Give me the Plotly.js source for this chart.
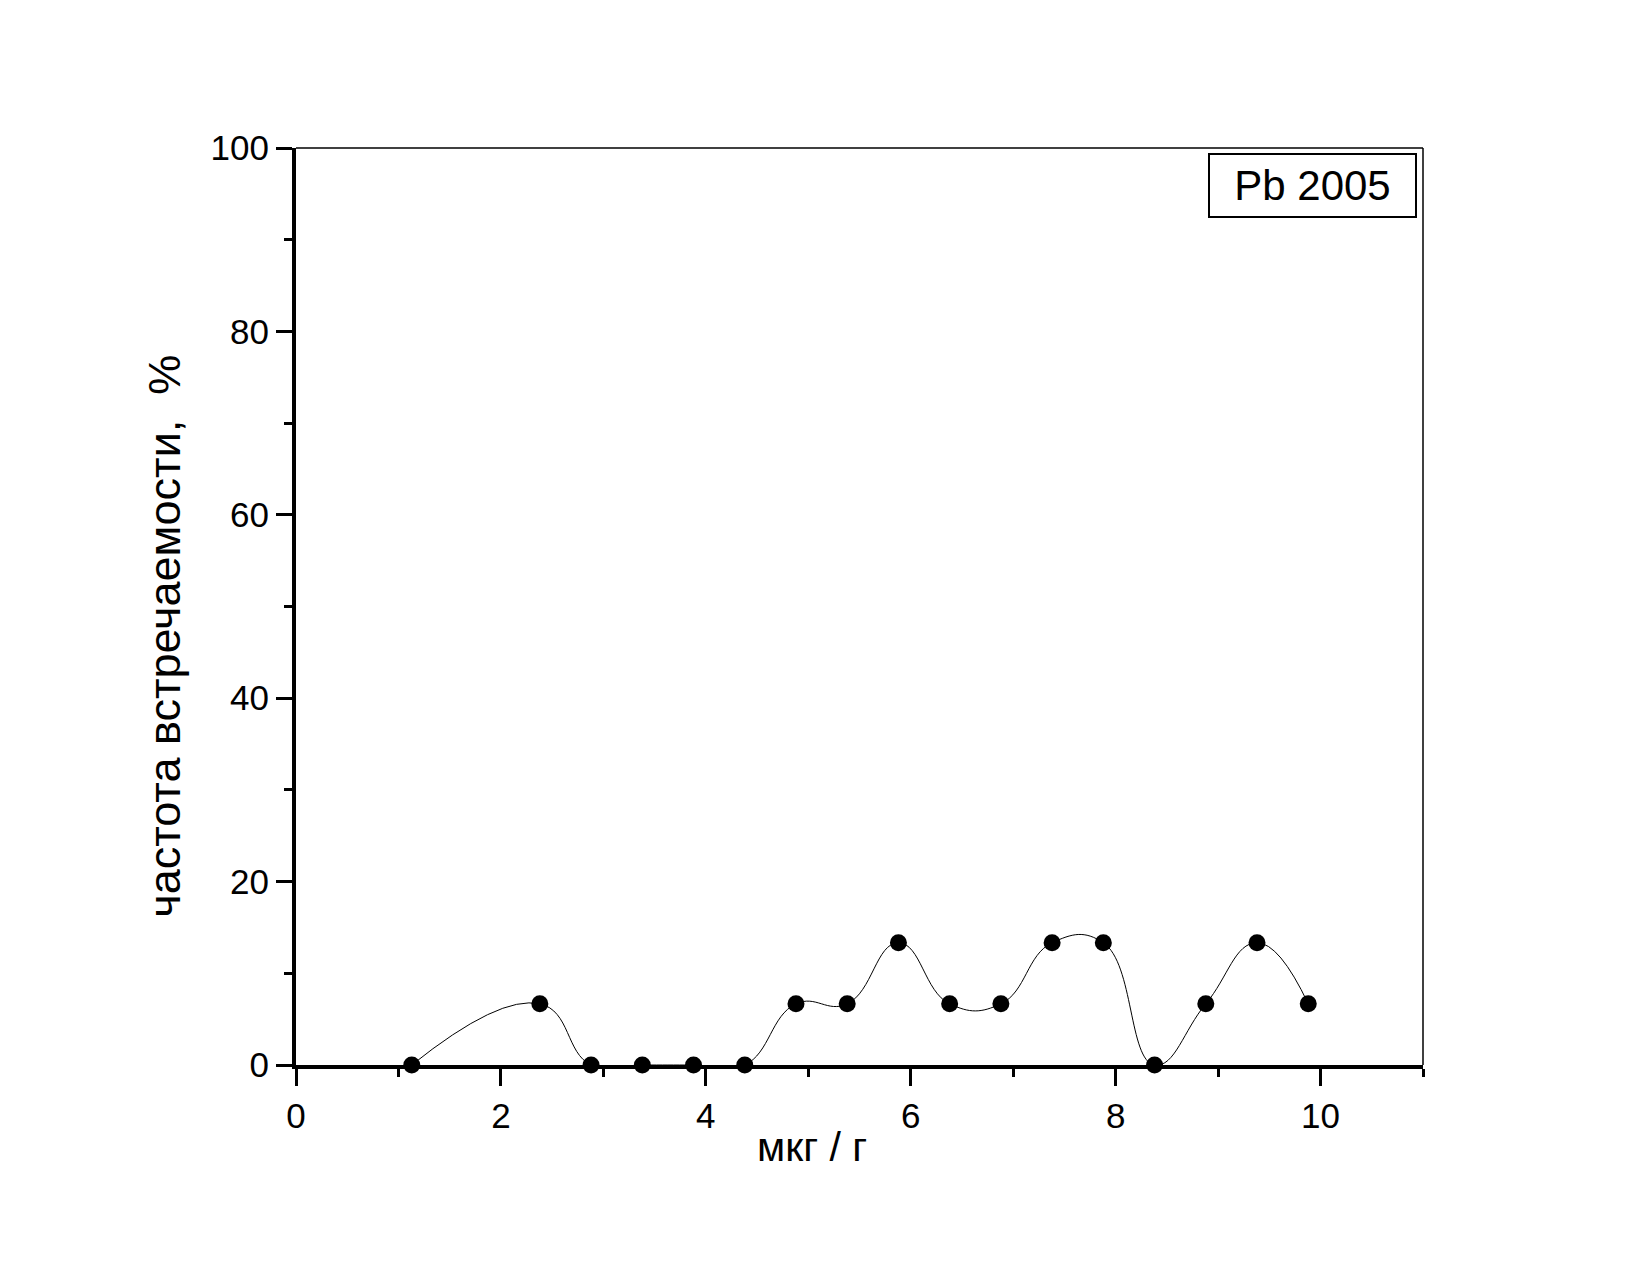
<!DOCTYPE html>
<html>
<head>
<meta charset="utf-8">
<script src="https://cdn.plot.ly/plotly-3.0.1.min.js"></script>
<style>html,body{margin:0;padding:0;background:#fff;}#chart{width:1650px;height:1275px;}</style>
</head>
<body>
<div id="chart"></div>
<script>
var concentration = [1.13, 2.38, 2.88, 3.38, 3.88, 4.38, 4.88, 5.38, 5.88, 6.38, 6.88, 7.38, 7.88, 8.38, 8.88, 9.38, 9.88];
var frequency = [0, 6.67, 0, 0, 0, 0, 6.67, 6.67, 13.33, 6.67, 6.67, 13.33, 13.33, 0, 6.67, 13.33, 6.67];
var seriesLabel = 'Pb 2005';
var xTitle = 'мкг / г';
var yTitle = 'частота встречаемости,  %';

var FONT = 'Liberation Sans, Arial, sans-serif';

var trace = {
  x: concentration,
  y: frequency,
  mode: 'lines+markers',
  type: 'scatter',
  line: {shape: 'spline', smoothing: 1.3, color: '#000', width: 1},
  marker: {symbol: 'circle', size: 17, color: '#000'},
  cliponaxis: false,
  showlegend: false
};

var layout = {
  width: 1650,
  height: 1275,
  paper_bgcolor: '#fff',
  plot_bgcolor: '#fff',
  margin: {l: 296, r: 227, t: 148, b: 210},
  font: {family: FONT, color: '#000'},
  xaxis: {
    range: [0, 11],
    dtick: 2,
    tick0: 0,
    ticks: 'outside',
    ticklen: 17,
    tickwidth: 3,
    tickcolor: '#000',
    showline: true,
    linewidth: 4,
    linecolor: '#000',
    mirror: false,
    showgrid: false,
    zeroline: false,
    tickfont: {size: 35, family: FONT},
    minor: {dtick: 1, ticks: 'outside', ticklen: 8, tickwidth: 3, tickcolor: '#000', showgrid: false}
  },
  yaxis: {
    range: [0, 100],
    dtick: 20,
    tick0: 0,
    ticks: 'outside',
    ticklen: 16,
    tickwidth: 3,
    tickcolor: '#000',
    showline: true,
    linewidth: 4,
    linecolor: '#000',
    mirror: false,
    showgrid: false,
    zeroline: false,
    tickfont: {size: 35, family: FONT},
    minor: {dtick: 10, ticks: 'outside', ticklen: 8, tickwidth: 3, tickcolor: '#000', showgrid: false}
  },
  shapes: [
    {type: 'line', xref: 'paper', yref: 'paper', x0: 0, x1: 1, y0: 1, y1: 1, line: {color: '#000', width: 1.5}},
    {type: 'line', xref: 'paper', yref: 'paper', x0: 1, x1: 1, y0: 0, y1: 1, line: {color: '#000', width: 1.5}}
  ],
  annotations: [
    {
      text: seriesLabel,
      xref: 'paper', yref: 'paper',
      x: 1, y: 1,
      xanchor: 'right', yanchor: 'top',
      xshift: -6, yshift: -5,
      showarrow: false,
      font: {size: 42, family: FONT, color: '#000'},
      bordercolor: '#000',
      borderwidth: 2,
      borderpad: 0,
      bgcolor: '#fff',
      width: 205,
      height: 61
    },
    {
      text: xTitle,
      xref: 'paper', yref: 'paper',
      x: 0.458, y: 0,
      xanchor: 'center', yanchor: 'middle',
      yshift: -82,
      showarrow: false,
      font: {size: 41, family: FONT, color: '#000'}
    },
    {
      text: yTitle,
      xref: 'paper', yref: 'paper',
      x: 0, y: 0.467,
      xanchor: 'center', yanchor: 'middle',
      xshift: -131,
      textangle: -90,
      showarrow: false,
      font: {size: 45, family: FONT, color: '#000'}
    }
  ]
};

Plotly.newPlot('chart', [trace], layout, {staticPlot: true, displayModeBar: false});
</script>
</body>
</html>
